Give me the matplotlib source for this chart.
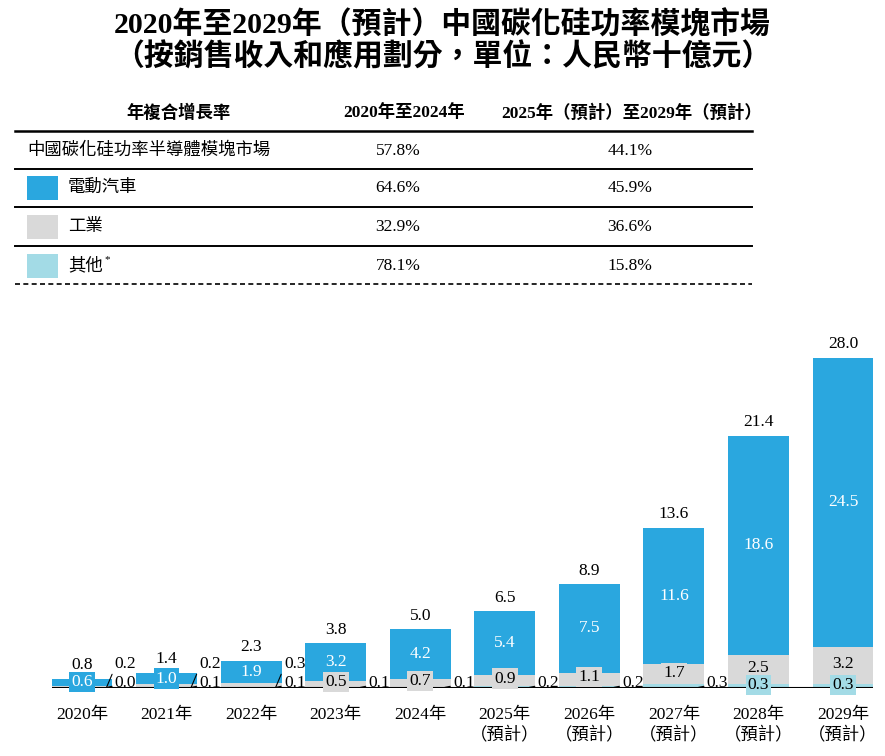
import matplotlib
matplotlib.use('Agg')
import matplotlib.pyplot as plt
from matplotlib.lines import Line2D
from matplotlib.patches import Rectangle

plt.rcParams['font.family'] = ['Liberation Serif', 'Noto Sans CJK TC']

# data
years = ['2020年', '2021年', '2022年', '2023年', '2024年',
         '2025年\n（預計）', '2026年\n（預計）', '2027年\n（預計）',
         '2028年\n（預計）', '2029年\n（預計）']
ev = [0.6, 1.0, 1.9, 3.2, 4.2, 5.4, 7.5, 11.6, 18.6, 24.5]
industrial = [0.2, 0.2, 0.3, 0.5, 0.7, 0.9, 1.1, 1.7, 2.5, 3.2]
others = [0.0, 0.1, 0.1, 0.1, 0.1, 0.2, 0.2, 0.3, 0.3, 0.3]
totals = [0.8, 1.4, 2.3, 3.8, 5.0, 6.5, 8.9, 13.6, 21.4, 28.0]

cagr_header = ['年複合增長率', '2020年至2024年', '2025年（預計）至2029年（預計）']
cagr_rows = ['中國碳化硅功率半導體模塊市場', '電動汽車', '工業', '其他']
cagr_hist = ['57.8%', '64.6%', '32.9%', '78.1%']
cagr_fcst = ['44.1%', '45.9%', '36.6%', '15.8%']

title = ('2020年至2029年（預計）中國碳化硅功率模塊市場\n'
         '（按銷售收入和應用劃分，單位：人民幣十億元）')

EV_C = '#2aa7df'
IND_C = '#d9d9d9'
OTH_C = '#a3dbe6'
row_colors = [None, EV_C, IND_C, OTH_C]

W, H = 885, 756
fig = plt.figure(figsize=(W / 100, H / 100), dpi=100)


def fx(x):
    return x / W


def fy(y):
    return 1 - y / H


# title
fig.text(0.5, fy(41), title, ha='center', va='center', fontsize=21.5,
         fontweight='bold', linespacing=1.12)

# CAGR table
fs = 12.5
fig.text(fx(179), fy(113), cagr_header[0], ha='center', va='center', fontsize=fs, fontweight='bold')
fig.text(fx(404), fy(113), cagr_header[1], ha='center', va='center', fontsize=fs, fontweight='bold')
fig.text(fx(632), fy(113), cagr_header[2], ha='center', va='center', fontsize=fs, fontweight='bold')

for yl, lw in [(131, 1.8), (169, 1.4), (207, 1.4), (246, 1.4)]:
    fig.add_artist(Line2D([fx(15), fx(752)], [fy(yl), fy(yl)], color='black', lw=lw))
fig.add_artist(Line2D([fx(15), fx(752)], [fy(284), fy(284)], color='black', lw=1.2,
                      linestyle=(0, (3, 2))))

row_y = [151, 188, 227, 266]
for i, name in enumerate(cagr_rows):
    y = row_y[i]
    if row_colors[i] is None:
        fig.text(fx(27), fy(y), name, ha='left', va='center', fontsize=fs)
    else:
        fig.add_artist(Rectangle((fx(27), fy(y + 11.5)), 31 / W, 23 / H,
                                 facecolor=row_colors[i], edgecolor='none'))
        fig.text(fx(68), fy(y), name, ha='left', va='center', fontsize=fs)
        if i == 3:
            fig.text(fx(104), fy(y - 6), '*', ha='left', va='center', fontsize=8)
    fig.text(fx(398), fy(y), cagr_hist[i], ha='center', va='center', fontsize=fs)
    fig.text(fx(630), fy(y), cagr_fcst[i], ha='center', va='center', fontsize=fs)

# bar chart
ax = fig.add_axes([fx(52), fy(688), 821 / W, 353.6 / H])
x = list(range(len(years)))
width = 0.72
bot_ind = others
bot_ev = [o + d for o, d in zip(others, industrial)]
ax.bar(x, others, width, color=OTH_C, zorder=2)
ax.bar(x, industrial, width, bottom=bot_ind, color=IND_C, zorder=2)
ax.bar(x, ev, width, bottom=bot_ev, color=EV_C, zorder=2)
ax.axhline(0, color='black', lw=1.5, zorder=3)

ax.set_xlim(-0.355, 9.355)
ax.set_ylim(0, 30)
for s in ax.spines.values():
    s.set_visible(False)
ax.set_yticks([])
ax.set_xticks(x)
ax.set_xticklabels(years, fontsize=12.5, linespacing=1.3)
ax.tick_params(axis='x', length=0, pad=14)

line_kw = dict(arrowstyle='-', color='black', lw=0.8, shrinkA=0, shrinkB=0, relpos=(0, 0.3))

for i in x:
    top = bot_ev[i] + ev[i]
    right = i + width / 2
    ax.annotate(f'{totals[i]:.1f}', (i, top), xytext=(0, 4), textcoords='offset points',
                ha='center', va='bottom', fontsize=12.5, zorder=5)
    ax.text(i, bot_ev[i] + ev[i] / 2, f'{ev[i]:.1f}', ha='center', va='center',
            fontsize=12.5, color='white', zorder=5,
            bbox=dict(facecolor=EV_C, edgecolor='none', pad=1.5))
    if i <= 2:
        ax.annotate(f'{industrial[i]:.1f}', (right - 0.07, 0.05), xytext=(6, 16.5),
                    textcoords='offset points', ha='left', va='center', fontsize=12.5,
                    arrowprops=line_kw, zorder=5)
    else:
        ax.text(i, bot_ind[i] + industrial[i] / 2 + 0.15, f'{industrial[i]:.1f}',
                ha='center', va='center', fontsize=12.5, zorder=5,
                bbox=dict(facecolor=IND_C, edgecolor='none', pad=1.5))
    if i <= 7:
        ax.annotate(f'{others[i]:.1f}', (right - 0.07, 0.05), xytext=(6, 3.5),
                    textcoords='offset points', ha='left', va='center', fontsize=12.5,
                    arrowprops=line_kw, zorder=5)
    else:
        ax.text(i, 0.25, f'{others[i]:.1f}', ha='center', va='center', fontsize=12.5,
                zorder=5, bbox=dict(facecolor=OTH_C, edgecolor='none', pad=1.5))

fig.savefig('out.png', dpi=100)
